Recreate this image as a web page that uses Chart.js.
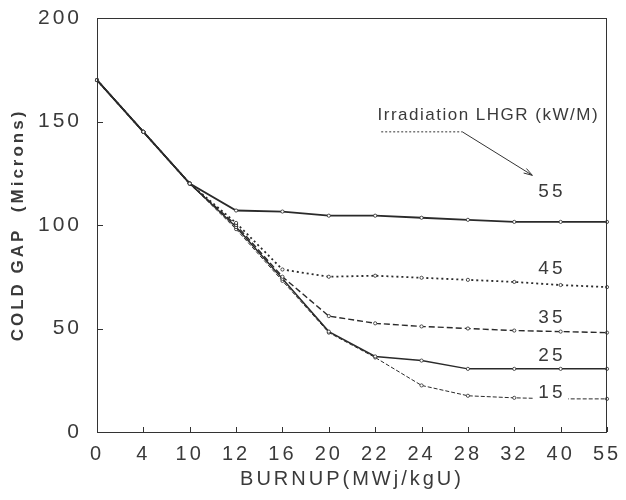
<!DOCTYPE html>
<html>
<head>
<meta charset="utf-8">
<script src="https://cdn.jsdelivr.net/npm/chart.js@4.4.1/dist/chart.umd.min.js"></script>
<style>
  body { margin: 0; background: #fff; }
</style>
</head>
<body>
<canvas id="gapChart" width="626" height="500"></canvas>
<script>
// burnup steps (category axis, evenly spaced like the original)
const burnup = ['0', '4', '10', '12', '16', '20', '22', '24', '28', '32', '40', '55'];

// cold gap (microns) for each irradiation LHGR
const lhgr55 = [170, 145, 120, 107, 106.5, 104.5, 104.5, 103.5, 102.5, 101.5, 101.5, 101.5];
const lhgr45 = [170, 145, 120, 101, 78.5, 75, 75.5, 74.5, 73.5, 72.5, 71, 70];
const lhgr35 = [170, 145, 120, 100, 75, 56, 52.5, 51, 50, 49, 48.5, 48];
const lhgr25 = [170, 145, 120, 99, 74, 48.5, 36.5, 34.5, 30.5, 30.5, 30.5, 30.5];
const lhgr15 = [170, 145, 120, 98, 73, 48, 36, 22.5, 17.5, 16.5, 16, 16];

const yTicks = [0, 50, 100, 150, 200];

// curve labels: text, position (category index, microns)
const curveLabels = ['55', '45', '35', '25', '15'];
const curveLabelY = [116, 79, 55, 37, 19];
const curveLabelX = 9.78;

const legendText = 'Irradiation LHGR (kW/M)';

const ink = '#2a2a2a';
const textInk = '#3a3a3a';

function line(label, data, dash, width) {
  return {
    label: label,
    data: data,
    borderColor: ink,
    borderWidth: width,
    borderDash: dash,
    pointRadius: 1.6,
    pointBackgroundColor: '#fff',
    pointBorderColor: ink,
    pointBorderWidth: 0.8,
    tension: 0,
    fill: false
  };
}

const decorations = {
  id: 'decorations',
  beforeDraw(chart) {
    chart.ctx.letterSpacing = '3px';
  },
  afterDatasetsDraw(chart) {
    const ctx = chart.ctx;
    const xs = chart.scales.x;
    const ys = chart.scales.y;
    const area = chart.chartArea;

    ctx.save();
    ctx.strokeStyle = '#333';
    ctx.lineWidth = 1;

    // frame
    ctx.strokeRect(area.left + 0.5, area.top + 0.5, area.right - area.left - 1, area.bottom - area.top);

    // inside ticks
    ctx.beginPath();
    for (let i = 0; i < burnup.length; i++) {
      const px = Math.round(xs.getPixelForTick(i)) + 0.5;
      ctx.moveTo(px, area.bottom);
      ctx.lineTo(px, area.bottom - 5);
    }
    yTicks.forEach(v => {
      const py = Math.round(ys.getPixelForValue(v)) + 0.5;
      ctx.moveTo(area.left, py);
      ctx.lineTo(area.left + 6, py);
    });
    ctx.stroke();

    // curve labels with white backing
    ctx.font = '19px "Liberation Sans", Arial, sans-serif';
    ctx.letterSpacing = '3px';
    ctx.textAlign = 'center';
    ctx.textBaseline = 'middle';
    curveLabels.forEach((t, i) => {
      const px = xs.getPixelForValue(curveLabelX);
      const py = ys.getPixelForValue(curveLabelY[i]);
      const w = ctx.measureText(t).width;
      ctx.fillStyle = '#fff';
      ctx.fillRect(px - w / 2 - 4, py - 10, w + 8, 20);
      ctx.fillStyle = textInk;
      ctx.fillText(t, px + 1.5, py);
    });

    // legend note + arrow
    ctx.font = '17px "Liberation Sans", Arial, sans-serif';
    ctx.letterSpacing = '1.5px';
    ctx.fillText(legendText, xs.getPixelForValue(8.44), ys.getPixelForValue(152.8));

    const ux0 = xs.getPixelForValue(6.13), ux1 = xs.getPixelForValue(7.88);
    const uy = ys.getPixelForValue(145);
    ctx.setLineDash([2, 2]);
    ctx.beginPath();
    ctx.moveTo(ux0, uy);
    ctx.lineTo(ux1, uy);
    ctx.stroke();
    ctx.setLineDash([]);

    const ax = xs.getPixelForValue(9.39), ay = ys.getPixelForValue(124);
    ctx.beginPath();
    ctx.moveTo(ux1, uy);
    ctx.lineTo(ax, ay);
    ctx.stroke();
    const ang = Math.atan2(ay - uy, ax - ux1);
    ctx.beginPath();
    ctx.moveTo(ax, ay);
    ctx.lineTo(ax - 9 * Math.cos(ang - 0.3), ay - 9 * Math.sin(ang - 0.3));
    ctx.moveTo(ax, ay);
    ctx.lineTo(ax - 9 * Math.cos(ang + 0.3), ay - 9 * Math.sin(ang + 0.3));
    ctx.stroke();
    ctx.restore();
  }
};

const ctx = document.getElementById('gapChart').getContext('2d');

new Chart(ctx, {
  type: 'line',
  data: {
    labels: burnup,
    datasets: [
      line('55', lhgr55, [], 1.8),
      line('45', lhgr45, [2, 3], 1.8),
      line('35', lhgr35, [6, 3], 1.4),
      line('25', lhgr25, [], 1.5),
      line('15', lhgr15, [4, 2], 1)
    ]
  },
  options: {
    responsive: false,
    animation: false,
    layout: { padding: { top: 18, right: 19, left: 0, bottom: 0 } },
    plugins: {
      legend: { display: false },
      tooltip: { enabled: false }
    },
    scales: {
      x: {
        offset: false,
        grid: { display: false, drawTicks: false },
        border: { display: false },
        ticks: {
          color: textInk,
          font: { family: '"Liberation Sans", Arial, sans-serif', size: 20 },
          padding: 10,
          maxRotation: 0,
          autoSkip: false
        },
        title: {
          display: true,
          text: 'BURNUP(MWj/kgU)',
          color: textInk,
          font: { family: '"Liberation Sans", Arial, sans-serif', size: 20 },
          padding: { top: 0, bottom: 9 }
        },
        afterFit(scale) {
          scale.height = 68;
          scale.paddingLeft = 0;
          scale.paddingRight = 0;
        }
      },
      y: {
        min: 0,
        max: 200,
        grid: { display: false, drawTicks: false },
        border: { display: false },
        ticks: {
          stepSize: 50,
          color: textInk,
          font: { family: '"Liberation Sans", Arial, sans-serif', size: 21 },
          padding: 15
        },
        title: {
          display: true,
          text: 'COLD GAP  (Microns)',
          color: textInk,
          font: { family: '"Liberation Sans", Arial, sans-serif', size: 17, weight: 'bold' },
          padding: { top: 8, bottom: 0 }
        },
        afterFit(scale) {
          scale.width = 97;
          scale.paddingTop = 0;
          scale.paddingBottom = 0;
        }
      }
    }
  },
  plugins: [decorations]
});
</script>
</body>
</html>
